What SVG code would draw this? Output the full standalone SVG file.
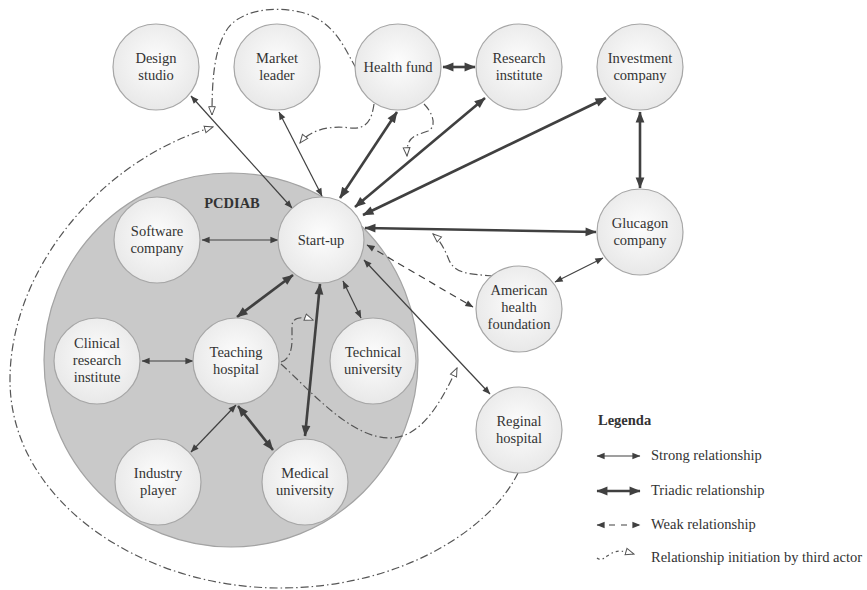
<svg xmlns="http://www.w3.org/2000/svg" width="867" height="590" viewBox="0 0 867 590">
<style>
text{font-family:"Liberation Serif","Times New Roman",serif;font-size:14.5px;fill:#333}
.lbl{text-anchor:middle}
.b{font-weight:bold}
.node{fill:url(#ng);stroke:#a6a6a6;stroke-width:1.2}
.st{fill:none;stroke:#404040;stroke-width:1.2;marker-start:url(#as);marker-end:url(#as)}
.tr{fill:none;stroke:#404040;stroke-width:2.6;marker-start:url(#at);marker-end:url(#at)}
.wk{fill:none;stroke:#404040;stroke-width:1.2;stroke-dasharray:7 5;marker-start:url(#as);marker-end:url(#as)}
.ta{fill:none;stroke:#555;stroke-width:1.2;stroke-dasharray:8 3 1.5 3;marker-end:url(#ao)}
</style>
<defs>
<radialGradient id="ng" cx="50%" cy="45%" r="55%">
<stop offset="0" stop-color="#fdfdfd"/>
<stop offset="1" stop-color="#e8e8e8"/>
</radialGradient>
<marker id="as" viewBox="0 0 10 10" refX="9.5" refY="5" markerWidth="9" markerHeight="8" markerUnits="userSpaceOnUse" orient="auto-start-reverse"><path d="M0,1 L10,5 L0,9 z" fill="#404040"/></marker>
<marker id="at" viewBox="0 0 10 10" refX="9.5" refY="5" markerWidth="12" markerHeight="11" markerUnits="userSpaceOnUse" orient="auto-start-reverse"><path d="M0,1 L10,5 L0,9 z" fill="#404040"/></marker>
<marker id="ao" viewBox="-1 -1 12 12" refX="10" refY="5" markerWidth="10" markerHeight="10" markerUnits="userSpaceOnUse" orient="auto"><path d="M0,1 L10,5 L0,9 z" fill="#fff" stroke="#555" stroke-width="1.2"/></marker>
</defs>
<rect width="867" height="590" fill="#fff"/>
<g id="pcdiab">
<circle cx="231" cy="360" r="187" fill="#c9c9c9" stroke="#a3a3a3" stroke-width="1.2"/>
<text x="232" y="208" class="lbl b">PCDIAB</text>
</g>
<g id="connectors">
<line class="st" x1="191" y1="96" x2="292" y2="208"/>
<line class="st" x1="279" y1="112" x2="322" y2="196"/>
<line class="st" x1="202" y1="240" x2="278" y2="240"/>
<line class="st" x1="142" y1="361" x2="193" y2="361"/>
<line class="st" x1="236" y1="405" x2="191" y2="452"/>
<line class="st" x1="343" y1="281" x2="361" y2="318"/>
<line class="st" x1="364" y1="260" x2="490" y2="394"/>
<line class="st" x1="555" y1="282" x2="603" y2="258"/>
<line class="wk" x1="367" y1="245" x2="473" y2="307"/>
<line class="tr" x1="443" y1="67" x2="475" y2="67"/>
<line class="tr" x1="397" y1="112" x2="340" y2="198"/>
<line class="tr" x1="485" y1="98" x2="355" y2="207"/>
<line class="tr" x1="606" y1="98" x2="363" y2="215"/>
<line class="tr" x1="365" y1="228" x2="596" y2="232"/>
<line class="tr" x1="640" y1="112" x2="640" y2="188"/>
<line class="tr" x1="293" y1="275" x2="237" y2="317"/>
<line class="tr" x1="320" y1="284" x2="305" y2="436"/>
<line class="tr" x1="238" y1="406" x2="273" y2="450"/>
<path class="ta" d="M356,68 C345,50 335,20 300,12 C270,5 240,12 228,28 C214,48 212,80 212,115"/>
<path class="ta" d="M374,104 C372,118 368,130 350,128 C330,125 310,130 300,143"/>
<path class="ta" d="M424,104 C432,112 438,126 428,131 C415,136 406,136 407,156"/>
<path class="ta" d="M493,276 C470,274 455,274 449,260 C445,250 440,240 433,234"/>
<path class="ta" d="M281,362 C288,360 292,352 292,340 L292,326 C292,317 302,316 313,320"/>
<path class="ta" d="M281,364 C310,390 350,438 390,438 C420,438 440,405 457,368"/>
<path class="ta" d="M518,473 C490,530 400,588 280,588 C140,588 10,500 10,380 C10,270 100,160 213,127"/>
</g>
<g id="n-design"><circle class="node" cx="156" cy="67" r="43"/><text class="lbl" x="156" y="63">Design</text><text class="lbl" x="156" y="80">studio</text></g>
<g id="n-market"><circle class="node" cx="277" cy="67" r="43"/><text class="lbl" x="277" y="63">Market</text><text class="lbl" x="277" y="80">leader</text></g>
<g id="n-healthfund"><circle class="node" cx="398" cy="67" r="43"/><text class="lbl" x="398" y="72">Health fund</text></g>
<g id="n-research"><circle class="node" cx="519" cy="67" r="43"/><text class="lbl" x="519" y="63">Research</text><text class="lbl" x="519" y="80">institute</text></g>
<g id="n-investment"><circle class="node" cx="640" cy="67" r="43"/><text class="lbl" x="640" y="63">Investment</text><text class="lbl" x="640" y="80">company</text></g>
<g id="n-glucagon"><circle class="node" cx="640" cy="232" r="43"/><text class="lbl" x="640" y="228">Glucagon</text><text class="lbl" x="640" y="245">company</text></g>
<g id="n-startup"><circle class="node" cx="321" cy="240" r="43"/><text class="lbl" x="321" y="245">Start-up</text></g>
<g id="n-software"><circle class="node" cx="157" cy="240" r="43"/><text class="lbl" x="157" y="236">Software</text><text class="lbl" x="157" y="253">company</text></g>
<g id="n-clinical"><circle class="node" cx="97" cy="361" r="43"/><text class="lbl" x="97" y="348">Clinical</text><text class="lbl" x="97" y="365">research</text><text class="lbl" x="97" y="382">institute</text></g>
<g id="n-teaching"><circle class="node" cx="236" cy="361" r="43"/><text class="lbl" x="236" y="357">Teaching</text><text class="lbl" x="236" y="374">hospital</text></g>
<g id="n-technical"><circle class="node" cx="373" cy="361" r="43"/><text class="lbl" x="373" y="357">Technical</text><text class="lbl" x="373" y="374">university</text></g>
<g id="n-industry"><circle class="node" cx="158" cy="482" r="43"/><text class="lbl" x="158" y="478">Industry</text><text class="lbl" x="158" y="495">player</text></g>
<g id="n-medical"><circle class="node" cx="305" cy="482" r="43"/><text class="lbl" x="305" y="478">Medical</text><text class="lbl" x="305" y="495">university</text></g>
<g id="n-american"><circle class="node" cx="519" cy="309" r="43"/><text class="lbl" x="519" y="295">American</text><text class="lbl" x="519" y="312">health</text><text class="lbl" x="519" y="329">foundation</text></g>
<g id="n-reginal"><circle class="node" cx="519" cy="430" r="43"/><text class="lbl" x="519" y="426">Reginal</text><text class="lbl" x="519" y="443">hospital</text></g>
<g id="legend">
<text x="598" y="425" class="b">Legenda</text>
<line class="st" x1="597" y1="456" x2="640" y2="456"/>
<text x="651" y="460">Strong relationship</text>
<line class="tr" x1="597" y1="491" x2="640" y2="491"/>
<text x="651" y="495">Triadic relationship</text>
<line class="wk" x1="597" y1="525" x2="640" y2="525" style="stroke-dasharray:6 6"/>
<text x="651" y="529">Weak relationship</text>
<path class="ta" d="M597,558 C602,562 606,556 612,553 C618,550 624,551 634,554" style="stroke-dasharray:3 3 1.5 3"/>
<text x="651" y="562">Relationship initiation by third actor</text>
</g>
</svg>
